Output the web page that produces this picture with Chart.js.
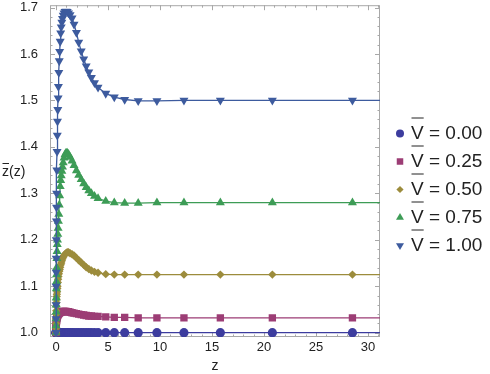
<!DOCTYPE html>
<html>
<head>
<meta charset="utf-8">
<script src="https://cdn.jsdelivr.net/npm/chart.js@4.4.0/dist/chart.umd.min.js"></script>
<style>
  html, body { margin: 0; padding: 0; background: #fff; }
</style>
</head>
<body>
<canvas id="zbar" width="490" height="374"></canvas>
<script>
// sample points along z (shared by every curve)
const zGrid = [0, 0.002, 0.005, 0.01, 0.015, 0.02, 0.03, 0.04, 0.05, 0.06,
  0.08, 0.1, 0.12, 0.14, 0.17, 0.2, 0.23, 0.27, 0.31, 0.35,
  0.4, 0.45, 0.5, 0.56, 0.62, 0.69, 0.77, 0.86, 0.96, 1.07,
  1.2, 1.35, 1.54, 1.73, 1.96, 2.18, 2.42, 2.66, 2.9, 3.15,
  3.4, 3.7, 4.04, 4.78, 5.6, 6.6, 7.9, 9.7, 12.3, 15.8,
  20.8, 28.5, 44];

const zbarV000 = [1, 1, 1, 1, 1, 1, 1, 1, 1, 1,
  1, 1, 1, 1, 1, 1, 1, 1, 1, 1,
  1, 1, 1, 1, 1, 1, 1, 1, 1, 1,
  1, 1, 1, 1, 1, 1, 1, 1, 1, 1,
  1, 1, 1, 1, 1, 1, 1, 1, 1, 1,
  1, 1, 1];

const zbarV025 = [1.000, 1.004, 1.008, 1.012, 1.015, 1.018, 1.021, 1.024, 1.026, 1.028,
  1.031, 1.033, 1.035, 1.036, 1.038, 1.039, 1.040, 1.041, 1.042, 1.043,
  1.044, 1.044, 1.045, 1.045, 1.045, 1.046, 1.046, 1.046, 1.046, 1.045,
  1.045, 1.044, 1.043, 1.042, 1.041, 1.040, 1.039, 1.038, 1.037, 1.036,
  1.036, 1.035, 1.035, 1.034, 1.033, 1.033, 1.032, 1.032, 1.032, 1.032,
  1.032, 1.032, 1.032];

const zbarV050 = [1.000, 1.010, 1.020, 1.030, 1.040, 1.047, 1.057, 1.065, 1.072, 1.078,
  1.083, 1.088, 1.095, 1.100, 1.108, 1.115, 1.121, 1.127, 1.132, 1.136,
  1.141, 1.146, 1.150, 1.155, 1.159, 1.163, 1.166, 1.169, 1.171, 1.173,
  1.173, 1.171, 1.169, 1.166, 1.161, 1.156, 1.151, 1.146, 1.141, 1.137,
  1.134, 1.131, 1.129, 1.126, 1.125, 1.125, 1.125, 1.125, 1.125, 1.125,
  1.125, 1.125, 1.125];

const zbarV075 = [1.000, 1.015, 1.030, 1.045, 1.060, 1.075, 1.095, 1.110, 1.125, 1.140,
  1.160, 1.175, 1.190, 1.200, 1.212, 1.225, 1.240, 1.255, 1.275, 1.295,
  1.315, 1.328, 1.338, 1.348, 1.357, 1.366, 1.376, 1.383, 1.387, 1.387,
  1.384, 1.378, 1.370, 1.360, 1.349, 1.339, 1.330, 1.321, 1.313, 1.306,
  1.300, 1.294, 1.289, 1.283, 1.280, 1.279, 1.279, 1.280, 1.280, 1.280,
  1.280, 1.280, 1.280];

const zbarV100 = [1.000, 1.030, 1.060, 1.100, 1.130, 1.160, 1.200, 1.240, 1.270, 1.300,
  1.350, 1.390, 1.425, 1.455, 1.480, 1.505, 1.530, 1.560, 1.585, 1.605,
  1.627, 1.645, 1.658, 1.668, 1.676, 1.683, 1.688, 1.691, 1.692, 1.691,
  1.688, 1.684, 1.677, 1.664, 1.646, 1.625, 1.606, 1.589, 1.574, 1.561,
  1.549, 1.538, 1.528, 1.515, 1.507, 1.502, 1.499, 1.499, 1.500, 1.500,
  1.500, 1.500, 1.500];

const seriesNames = ['0.00', '0.25', '0.50', '0.75', '1.00'];
const xTicks = [0, 5, 10, 15, 20, 25, 30];
const yTicks = [1.0, 1.1, 1.2, 1.3, 1.4, 1.5, 1.6, 1.7];

const colors = ['#3c3c9e', '#9c3d75', '#9c8c3c', '#3d9c56', '#3d5b9e'];
const markers = [
  { style: 'circle', r: 4.6, rot: 0 },
  { style: 'rect', r: 5.2, rot: 0 },
  { style: 'rectRot', r: 4.2, rot: 0 },
  { style: 'triangle', r: 5.2, rot: 0 },
  { style: 'triangle', r: 5.2, rot: 180 }
];
const allSeries = [zbarV000, zbarV025, zbarV050, zbarV075, zbarV100];

function toPoints(ys) {
  return zGrid.map((z, i) => ({ x: z, y: ys[i] }));
}

const fontFam = '"Liberation Sans", Arial, sans-serif';

const frame = {
  id: 'frame',
  beforeDatasetsDraw(chart) {
    const { ctx, chartArea: a, scales: { x, y } } = chart;
    ctx.save();
    ctx.strokeStyle = '#a8a8a8';
    ctx.lineWidth = 1;
    ctx.strokeRect(a.left + 0.5, a.top + 0.5, a.right - a.left - 1, a.bottom - a.top - 1);
    ctx.beginPath();
    for (let v = 0; v <= 31; v++) {
      const px = Math.round(x.getPixelForValue(v)) + 0.5;
      const len = xTicks.includes(v) ? 5 : 2.5;
      ctx.moveTo(px, a.bottom); ctx.lineTo(px, a.bottom - len);
      ctx.moveTo(px, a.top); ctx.lineTo(px, a.top + len);
    }
    for (let k = 0; k <= 35; k++) {
      const v = 1 + k * 0.02;
      const py = Math.round(y.getPixelForValue(v)) + 0.5;
      const len = k % 5 === 0 ? 5 : 2.5;
      ctx.moveTo(a.left, py); ctx.lineTo(a.left + len, py);
      ctx.moveTo(a.right, py); ctx.lineTo(a.right - len, py);
    }
    ctx.stroke();
    ctx.restore();
  },
  afterDraw(chart) {
    const { ctx, chartArea: a } = chart;
    ctx.save();
    ctx.fillStyle = '#222';
    ctx.strokeStyle = '#222';
    ctx.lineWidth = 1;
    // y title: z-bar(z)
    ctx.font = '14px ' + fontFam;
    ctx.textBaseline = 'alphabetic';
    const ty = 176;
    ctx.fillText('z(z)', 2, ty);
    const zw = ctx.measureText('z').width;
    ctx.beginPath();
    ctx.moveTo(2.5, ty - 12.5); ctx.lineTo(2 + zw, ty - 12.5);
    ctx.stroke();
    // x title
    ctx.textAlign = 'center';
    ctx.font = '14px ' + fontFam;
    ctx.fillText('z', (a.left + a.right) / 2, 370);
    // legend
    ctx.textAlign = 'left';
    ctx.font = '19px ' + fontFam;
    const vw = ctx.measureText('V').width;
    seriesNames.forEach((name, i) => {
      const base = 138.5 + i * 28;
      const m = markers[i];
      ctx.fillStyle = colors[i];
      Chart.helpers.drawPoint(ctx, { pointStyle: m.style, radius: m.r - 0.6, rotation: m.rot, borderWidth: 0 }, 400, base - 5);
      ctx.fillStyle = '#222';
      ctx.fillText('V = ' + name, 411, base);
      ctx.beginPath();
      ctx.moveTo(411.5, base - 20.5); ctx.lineTo(411 + vw, base - 20.5);
      ctx.stroke();
    });
    ctx.restore();
  }
};

new Chart(document.getElementById('zbar'), {
  type: 'scatter',
  data: {
    datasets: allSeries.map((ys, i) => ({
      label: 'V = ' + seriesNames[i],
      data: toPoints(ys),
      showLine: true,
      borderColor: colors[i],
      borderWidth: 1.3,
      backgroundColor: colors[i],
      pointBackgroundColor: colors[i],
      pointBorderWidth: 0,
      pointStyle: markers[i].style,
      pointRadius: markers[i].r,
      pointRotation: markers[i].rot,
      order: 5 - i
    }))
  },
  options: {
    responsive: false,
    animation: false,
    devicePixelRatio: 1,
    layout: { padding: { left: 0, right: 110, top: 5, bottom: 0 } },
    plugins: {
      legend: { display: false },
      tooltip: { enabled: false }
    },
    scales: {
      x: {
        type: 'linear',
        min: -0.58,
        max: 31.15,
        afterFit(s) { s.height = 37; s.paddingLeft = 0; s.paddingRight = 0; },
        afterBuildTicks(s) { s.ticks = xTicks.map(v => ({ value: v })); },
        ticks: { padding: -5, color: '#222', font: { family: fontFam, size: 13 }, maxRotation: 0 },
        grid: { display: false },
        border: { display: false }
      },
      y: {
        type: 'linear',
        min: 0.9907,
        max: 1.705,
        afterFit(s) { s.width = 50; s.paddingTop = 0; s.paddingBottom = 0; },
        afterBuildTicks(s) { s.ticks = yTicks.map(v => ({ value: v })); },
        ticks: { padding: 4, color: '#222', font: { family: fontFam, size: 13 }, callback: v => v.toFixed(1) },
        grid: { display: false },
        border: { display: false }
      }
    }
  },
  plugins: [frame]
});
</script>
</body>
</html>
